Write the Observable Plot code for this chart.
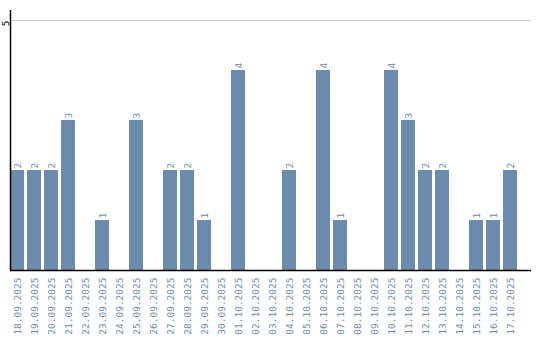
<!DOCTYPE html>
<html>
<head>
<meta charset="utf-8">
<script src="https://cdn.jsdelivr.net/npm/d3@7"></script>
<script src="https://cdn.jsdelivr.net/npm/@observablehq/plot@0.6"></script>
<style>
  html, body { margin: 0; padding: 0; background: #fff; }
  #chart svg { display: block; }
</style>
</head>
<body>
<div id="chart"></div>
<script>
const dates = ["18.09.2025","19.09.2025","20.09.2025","21.09.2025","22.09.2025","23.09.2025","24.09.2025","25.09.2025","26.09.2025","27.09.2025","28.09.2025","29.09.2025","30.09.2025","01.10.2025","02.10.2025","03.10.2025","04.10.2025","05.10.2025","06.10.2025","07.10.2025","08.10.2025","09.10.2025","10.10.2025","11.10.2025","12.10.2025","13.10.2025","14.10.2025","15.10.2025","16.10.2025","17.10.2025"];
const counts = [2,2,2,3,0,1,0,3,0,2,2,1,0,4,0,0,2,0,4,1,0,0,4,3,2,2,0,1,1,2];
const yTicks = [5];

const data = dates.map((d, i) => ({date: d, value: counts[i]}));
const color = "#6b8cac";
const font = "DejaVu Sans Mono, monospace";

const chart = Plot.plot({
  width: 540,
  height: 340,
  marginLeft: 10,
  marginRight: 9,
  marginTop: 10,
  marginBottom: 70,
  style: {fontFamily: font, fontSize: "9.5px", background: "#fff"},
  x: {domain: dates, paddingInner: 0.176, paddingOuter: 0.4, align: 0, axis: null},
  y: {domain: [0, 5.2], axis: null},
  marks: [
    Plot.ruleY(yTicks, {stroke: "#cccccc", strokeWidth: 1}),
    Plot.barY(data, {x: "date", y: "value", fill: color}),
    Plot.text(data.filter(d => d.value > 0), {
      x: "date", y: "value", text: d => String(d.value),
      rotate: -90, textAnchor: "start", lineAnchor: "middle", dy: -2, fill: color
    }),
    Plot.text(dates, {
      x: d => d, text: d => d, frameAnchor: "bottom", dy: 7,
      rotate: -90, textAnchor: "end", lineAnchor: "middle", fill: color
    }),
    Plot.text(yTicks, {
      y: d => d, text: d => String(d), frameAnchor: "left", dx: -5, dy: 3,
      rotate: -90, textAnchor: "middle", lineAnchor: "middle", fill: "#000"
    }),
    Plot.ruleX([0], {x: () => dates[0], dx: -7, stroke: "#000", strokeWidth: 1.5, y1: 0, y2: 5.2}),
    Plot.ruleY([0], {stroke: "#000", strokeWidth: 1.5})
  ]
});
document.getElementById("chart").appendChild(chart);
</script>
</body>
</html>
